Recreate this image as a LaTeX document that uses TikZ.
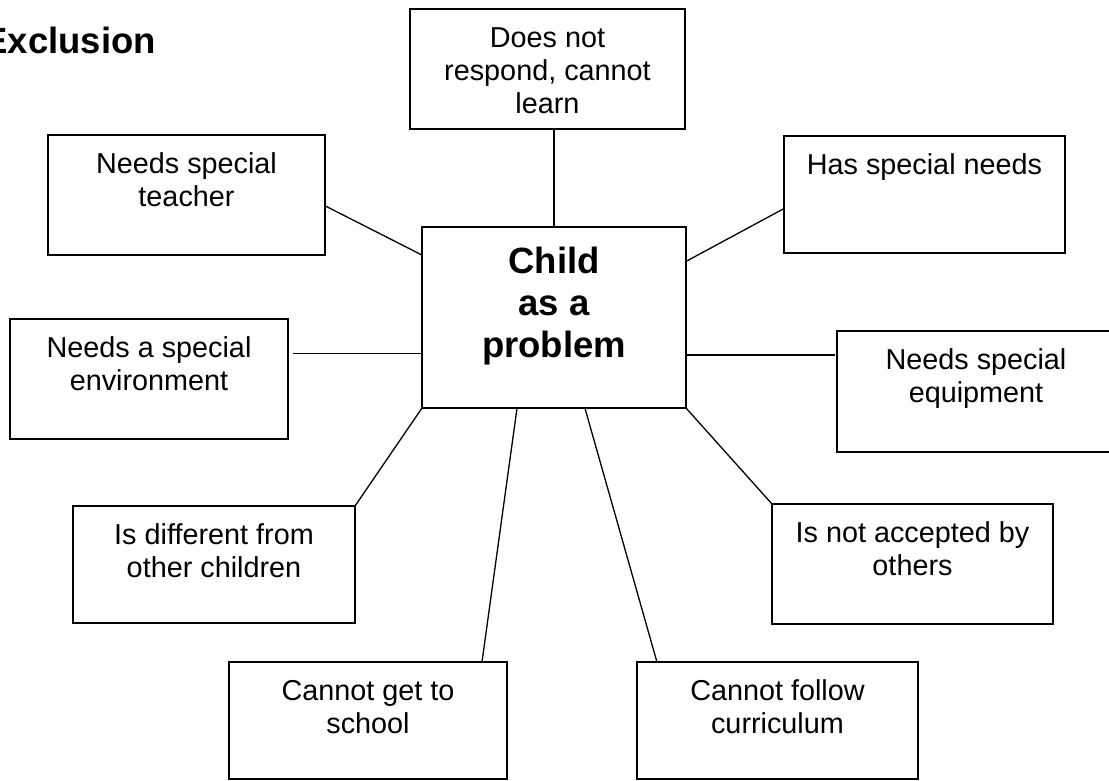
\documentclass[tikz,border=0pt]{standalone}
\usepackage{fontspec}
\setmainfont{Liberation Sans}
\usetikzlibrary{calc}
\newcommand{\bxt}[3]{\parbox[c][#2pt][t]{#1pt}{\centering\rule{0pt}{38pt}#3}}
\newcommand{\cbxt}[3]{\parbox[c][#2pt][t]{#1pt}{\centering\rule{0pt}{46pt}#3}}
\begin{document}
\begin{tikzpicture}[x=1pt,y=-1pt,
  box/.style={draw, line width=1.8pt, inner sep=0pt, outer sep=0pt,
              font=\fontsize{28.8pt}{33pt}\selectfont},
  cbox/.style={box, font=\fontsize{36.5pt}{42pt}\selectfont\bfseries},
  link/.style={line width=1.3pt}]
\clip (0,0) rectangle (1109,780);
\fill[white] (0,0) rectangle (1109,780);
\node[anchor=base east, inner sep=0pt, font=\fontsize{36.5pt}{42pt}\selectfont\bfseries] (title) at (156,53) {Exclusion};
\node[box] (T) at (547.5,69) {\bxt{275}{120}{Does not\\respond, cannot\\learn}};
\node[box] (A) at (186.5,195) {\bxt{277}{120}{Needs special\\teacher}};
\node[box] (H) at (924.5,194.5) {\bxt{281}{117}{Has special needs}};
\node[cbox] (C) at (554,317.5) {\cbxt{264}{181}{Child\\as a\\problem}};
\node[box] (E) at (149,379) {\bxt{278}{120}{Needs a special\\environment}};
\node[box] (Q) at (976,391.5) {\bxt{278}{121}{Needs special\\equipment}};
\node[box] (D) at (214,564.5) {\bxt{282}{117}{Is different from\\other children}};
\node[box] (N) at (912.5,564) {\bxt{281}{120}{Is not accepted by\\others}};
\node[box] (S) at (368,720.5) {\bxt{278}{117}{Cannot get to\\school}};
\node[box] (U) at (777.5,720.5) {\bxt{281}{117}{Cannot follow\\curriculum}};
\draw[link] (C.north) -- (C.north |- T.south);
\draw[link] ($(A.north east)!0.59!(A.south east)$) -- ($(C.north west)!0.155!(C.south west)$);
\draw[link] ($(H.north west)!0.62!(H.south west)$) -- ($(C.north east)!0.19!(C.south east)$);
\coordinate (ce) at ($(C.north west)!0.70!(C.south west)$);
\draw[link] ($(E.east |- ce)+(5,0)$) -- (ce);
\coordinate (cq) at ($(C.north east)!0.707!(C.south east)$);
\draw[link] (cq) -- ($(Q.west |- cq)+(-2,0)$);
\draw[link] (C.south west) -- (D.north east);
\draw[link] (C.south east) -- (N.north west);
\draw[link] ($(C.south west)!0.36!(C.south east)$) -- ($(S.north west)!0.91!(S.north east)$);
\draw[link] ($(C.south west)!0.617!(C.south east)$) -- ($(U.north west)!0.071!(U.north east)$);
\end{tikzpicture}
\end{document}
